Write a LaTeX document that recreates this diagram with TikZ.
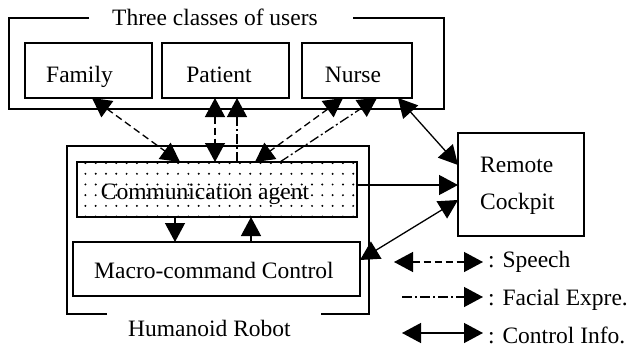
\documentclass[tikz,border=0pt]{standalone}
\usepackage{fontspec}
\setmainfont{Liberation Serif}
\usetikzlibrary{arrows.meta,patterns,calc}
\pgfdeclarepatternformonly{griddots}{\pgfpoint{-1pt}{-1pt}}{\pgfpoint{11pt}{12pt}}{\pgfpoint{10.3pt}{10.7pt}}{%
  \pgfpathcircle{\pgfpoint{3pt}{3pt}}{1.1pt}%
  \pgfusepath{fill}}
\begin{document}
\begin{tikzpicture}[x=1pt,y=-1pt,
  font=\fontsize{23.5}{28}\selectfont,
  box/.style={draw, line width=1.4pt, inner sep=0pt, outer sep=0pt, anchor=north west},
  frame/.style={line width=1.4pt},
  lbl/.style={inner sep=0pt, anchor=base},
  lbll/.style={inner sep=0pt, anchor=base west},
  conn/.style={line width=1.3pt},
  tri/.tip={Triangle[length=19pt,width=20pt]},
  hd/.style={-tri},
  hdd/.style={tri-tri},
  speech/.style={conn, dash pattern=on 7pt off 4pt},
  facial/.style={conn, dash pattern=on 10pt off 3pt on 2pt off 3pt}]
\useasboundingbox (0,0) rectangle (632,348);
% frames
\draw[frame] (89,18) -- (9,18) -- (9,109) -- (444,109) -- (444,18) -- (353,18);
\node[lbl] (title) at (215,25) {Three classes of users};
\draw[frame] (107,314) -- (67,314) -- (67,146) -- (369,146) -- (369,314) -- (321,314);
\node[lbl] (robot) at (209.5,336) {Humanoid Robot};
% boxes
\node[box, minimum width=127pt, minimum height=55pt] (family) at (25,43) {};
\node[box, minimum width=127pt, minimum height=55pt] (patient) at (162,43) {};
\node[box, minimum width=110pt, minimum height=55pt] (nurse) at (302,43) {};
\node[lbl] (familyt) at (79.5,82) {Family};
\node[lbl] (patientt) at (219,82) {Patient};
\node[lbl] (nurset) at (353,82) {Nurse};
\node[box, minimum width=280pt, minimum height=55pt, fill=white, pattern=griddots] (comm) at (77,162) {};
\node[lbl] (commt) at (205,199) {Communication agent};
\node[box, minimum width=287pt, minimum height=54pt] (macro) at (73,242) {};
\node[lbl] (macrot) at (214,278) {Macro-command Control};
\node[box, minimum width=126pt, minimum height=103pt] (remote) at (458,133) {};
\node[lbll] (remt1) at (480,172) {Remote};
\node[lbll] (remt2) at (480,209) {Cockpit};
% connectors
\draw[speech,hdd] ($(family.south west)+(67,0)$) -- ($(comm.north west)+(103,0)$);
\draw[speech,hdd] ($(patient.south west)+(53,0)$) -- ($(comm.north west)+(138,0)$);
\draw[facial,hd] ($(comm.north west)+(160,0)$) -- ($(patient.south west)+(75,0)$);
\draw[speech,hdd] ($(nurse.south west)+(41,0)$) -- ($(comm.north west)+(178,0)$);
\draw[facial,hd] ($(comm.north west)+(203,0)$) -- ($(nurse.south west)+(75,0)$);
\draw[conn,hdd] ($(nurse.south west)+(96,0)$) -- ($(remote.north west)+(0,32)$);
\draw[conn,hd] ($(comm.north east)+(0,23)$) -- ($(remote.north west)+(0,52)$);
\draw[conn,hdd] ($(macro.north east)+(0,18)$) -- ($(remote.north west)+(0,67)$);
\draw[conn,hd] ($(comm.south west)+(98,0)$) -- ($(macro.north west)+(102,0)$);
\draw[conn,hd] ($(macro.north west)+(178,0)$) -- ($(comm.south west)+(174,0)$);
% legend
\coordinate (s1) at (394,262); \coordinate (s2) at (483,262);
\coordinate (f1) at (402,297); \coordinate (f2) at (483,297);
\coordinate (c1) at (402,333); \coordinate (c2) at (483,333);
\draw[speech,hdd] (s1) -- (s2);
\draw[facial,hd] (f1) -- (f2);
\draw[conn,hdd] (c1) -- (c2);
\node[lbll] (ls) at (488,267) {: Speech};
\node[lbll] (lf) at (488,305) {: Facial Expre.};
\node[lbll] (lc) at (488,343) {: Control Info.};
\end{tikzpicture}
\end{document}
